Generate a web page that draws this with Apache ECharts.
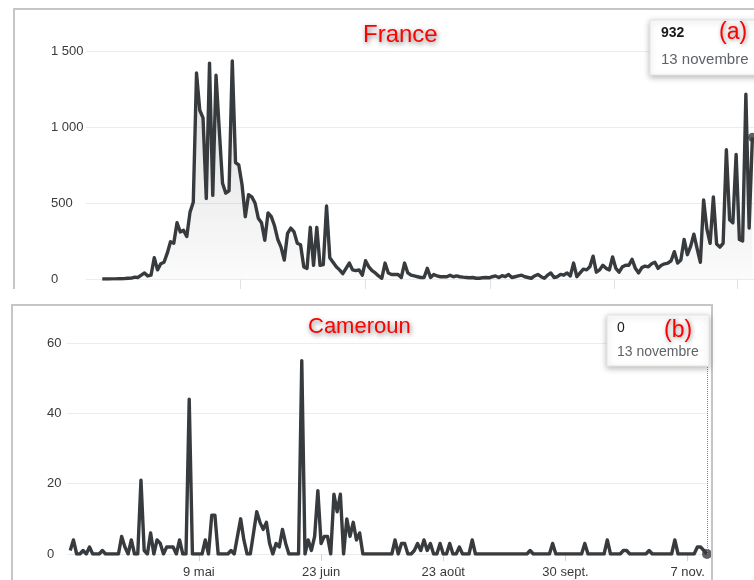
<!DOCTYPE html>
<html><head><meta charset="utf-8">
<script src="https://cdn.jsdelivr.net/npm/echarts@6/dist/echarts.min.js"></script>
<style>html,body{margin:0;padding:0;background:#fff}#c{width:754px;height:580px}</style>
</head><body><div id="c"></div>
<script>
// ---- data (daily values) ----
const franceValues = [
  0,0,0,1,1,2,2,3,5,6, 12,10,25,40,20,25,140,60,100,110,
  170,245,235,370,310,320,280,440,505,1355, 1110,1060,530,1420,550,1340,980,630,565,580,
  1435,765,750,620,410,555,540,500,400,370, 255,435,410,350,260,210,125,300,335,310,
  235,225,80,70,340,90,340,90,95,480, 140,110,80,60,35,70,105,60,55,60,
  25,120,80,55,40,20,5,105,40,30, 30,30,10,105,40,25,20,15,10,10,
  70,10,30,20,15,15,15,25,15,20, 15,12,10,8,10,5,5,8,10,8,
  15,20,10,22,15,30,10,15,20,25, 15,10,5,20,30,15,5,25,40,10,
  15,30,25,40,20,105,15,40,65,60, 80,150,45,60,90,70,60,145,70,45,
  80,90,90,130,70,40,75,85,80,100, 110,70,90,100,105,120,180,105,125,260,
  160,215,295,200,110,520,330,235,540,230, 210,235,850,390,370,820,260,250,1215,335,
  932
];
const camerounValues = [
  1,4,0,0,1,0,2,0,0,0, 1,0,0,0,0,0,5,2,0,4,
  0,0,21,1,0,6,0,4,3,0, 2,2,2,0,4,0,0,44,0,0,
  0,0,4,0,11,11,0,0,0,0, 1,0,5,10,4,0,0,6,12,9,
  7,9,3,0,3,2,7,3,0,0, 0,0,55,0,4,1,5,18,3,5,
  5,0,17,12,17,0,10,5,9,4, 6,0,0,0,0,0,0,0,0,0,
  0,4,0,3,3,0,0,1,3,1, 4,1,3,0,0,3,0,0,3,0,
  0,2,0,0,0,4,0,0,0,0, 0,0,0,0,0,0,0,0,0,0,
  0,0,0,1,0,0,0,0,0,0, 3,0,0,0,0,0,0,0,0,0,
  3,0,0,0,0,0,0,4,0,0, 0,0,1,1,0,0,0,0,0,0,
  1,0,0,0,0,0,0,0,4,0, 0,0,0,0,0,2,2,1,0
];
const franceTickDays = [42.5, 81, 119.5, 157.5, 195.5];
const camerounTickDays = [40, 78, 116, 154, 192];
const camerounTickLabels = ['9 mai', '23 juin', '23 août', '30 sept.', '7 nov.'];
const chartTitles = ['France', 'Cameroun'];
const panelTags = ['(a)', '(b)'];
const lastDateLabel = '13 novembre';

// ---- chart ----
const FONT = '"Liberation Sans", Arial, Helvetica, sans-serif';
const LINE = '#383b3e';
const fmtFr = v => v >= 1000 ? Math.floor(v / 1000) + ' ' + String(v % 1000).padStart(3, '0') : String(v);
const titleStyle = size => ({
  color: '#ff0000', fontSize: size, fontWeight: 'normal', fontFamily: FONT,
  textShadowColor: 'rgba(0,0,0,0.55)', textShadowBlur: 5, textShadowOffsetX: 1, textShadowOffsetY: 2
});
const Z = 120;
const tagText = (x, y, t) => ({
  type: 'text', x: x, y: y, z: Z + 2,
  style: { text: t, fill: '#ff0000', font: '23px ' + FONT, align: 'left', verticalAlign: 'middle',
    textShadowColor: 'rgba(0,0,0,0.45)', textShadowBlur: 4, textShadowOffsetX: 1, textShadowOffsetY: 1 }
});
const boxRect = (x, y, w, h) => ({
  type: 'rect', z: Z, shape: { x: x, y: y, width: w, height: h },
  style: { fill: '#fff', stroke: '#e4e4e4', lineWidth: 1, shadowBlur: 6, shadowColor: 'rgba(0,0,0,0.28)', shadowOffsetY: 2 }
});
const boxText = (x, y, t, color, font) => ({
  type: 'text', x: x, y: y, z: Z + 1,
  style: { text: t, fill: color, font: font, verticalAlign: 'middle' }
});
const fLast = franceValues.length - 1, cLast = camerounValues.length - 1;

const chart = echarts.init(document.getElementById('c'), null, { renderer: 'canvas' });
chart.setOption({
  animation: false,
  backgroundColor: '#ffffff',
  textStyle: { fontFamily: FONT },
  title: [
    { text: chartTitles[0], left: 363, top: 23, padding: 0, textStyle: titleStyle(24) },
    { text: chartTitles[1], left: 308, top: 316, padding: 0, textStyle: titleStyle(22) }
  ],
  grid: [
    { left: 86, right: 0, top: 51, bottom: 301 },
    { left: 67, right: 47, top: 343, bottom: 26 }
  ],
  xAxis: [
    { gridIndex: 0, type: 'value', min: -5, max: 200.5,
      axisLine: { show: false }, splitLine: { show: false }, axisLabel: { show: false },
      axisTick: { show: true, customValues: franceTickDays, length: 10, lineStyle: { color: '#e2e2e2' } } },
    { gridIndex: 1, type: 'value', min: -1, max: 198,
      axisLine: { show: false }, splitLine: { show: false },
      axisTick: { show: true, customValues: camerounTickDays, length: 7, lineStyle: { color: '#d4d4d4' } },
      axisLabel: { customValues: camerounTickDays, color: '#3a3a3a', fontSize: 13, margin: 12,
        formatter: v => camerounTickLabels[camerounTickDays.indexOf(v)] || '' } }
  ],
  yAxis: [
    { gridIndex: 0, type: 'value', min: 0, max: 1500, interval: 500,
      axisLine: { show: false }, axisTick: { show: false },
      splitLine: { lineStyle: { color: '#ececec' } },
      axisLabel: { align: 'left', margin: 35, color: '#3a3a3a', fontSize: 13, formatter: fmtFr } },
    { gridIndex: 1, type: 'value', min: 0, max: 60, interval: 20,
      axisLine: { show: false }, axisTick: { show: false },
      splitLine: { lineStyle: { color: '#ececec' } },
      axisLabel: { align: 'left', margin: 20, color: '#3a3a3a', fontSize: 13 } }
  ],
  series: [
    { type: 'line', xAxisIndex: 0, yAxisIndex: 0, silent: true,
      data: franceValues.map((v, i) => [i, v]), showSymbol: false,
      lineStyle: { color: LINE, width: 3.4, join: 'round' }, itemStyle: { color: LINE },
      areaStyle: { color: { type: 'linear', x: 0, y: 0, x2: 0, y2: 1, colorStops: [
        { offset: 0, color: 'rgba(60,64,67,0.26)' }, { offset: 1, color: 'rgba(60,64,67,0.03)' } ] } } },
    { type: 'scatter', xAxisIndex: 0, yAxisIndex: 0, silent: true, clip: false,
      data: [[fLast, franceValues[fLast]]], symbolSize: 9, itemStyle: { color: LINE } },
    { type: 'line', xAxisIndex: 1, yAxisIndex: 1, silent: true,
      data: camerounValues.map((v, i) => [i, v]), showSymbol: false,
      lineStyle: { color: LINE, width: 3.4, join: 'round' }, itemStyle: { color: LINE },
      markLine: { silent: true, symbol: 'none', label: { show: false },
        lineStyle: { color: '#888', type: 'dotted', width: 1 }, data: [{ xAxis: cLast }] } },
    { type: 'scatter', xAxisIndex: 1, yAxisIndex: 1, silent: true, clip: false,
      data: [[cLast, camerounValues[cLast]]], symbolSize: 10, itemStyle: { color: LINE } }
  ],
  graphic: [
    { type: 'polyline', z: 100, silent: true,
      shape: { points: [[14, 289], [14, 9], [760, 9]] },
      style: { stroke: '#c6c6c6', lineWidth: 2, fill: null } },
    { type: 'polyline', z: 100, silent: true,
      shape: { points: [[12, 590], [12, 305], [712, 305], [712, 590]] },
      style: { stroke: '#c6c6c6', lineWidth: 2, fill: null } },
    boxRect(650, 20, 130, 55),
    boxText(661, 33, String(franceValues[fLast]), '#1a1a1a', 'bold 14px ' + FONT),
    boxText(661, 60, lastDateLabel, '#5f6368', '15px ' + FONT),
    tagText(719, 33, panelTags[0]),
    boxRect(607, 315, 102, 51),
    boxText(617, 328, String(camerounValues[cLast]), '#1a1a1a', '14px ' + FONT),
    boxText(617, 352, lastDateLabel, '#5f6368', '14px ' + FONT),
    tagText(664, 331, panelTags[1])
  ]
});
</script>
</body></html>
